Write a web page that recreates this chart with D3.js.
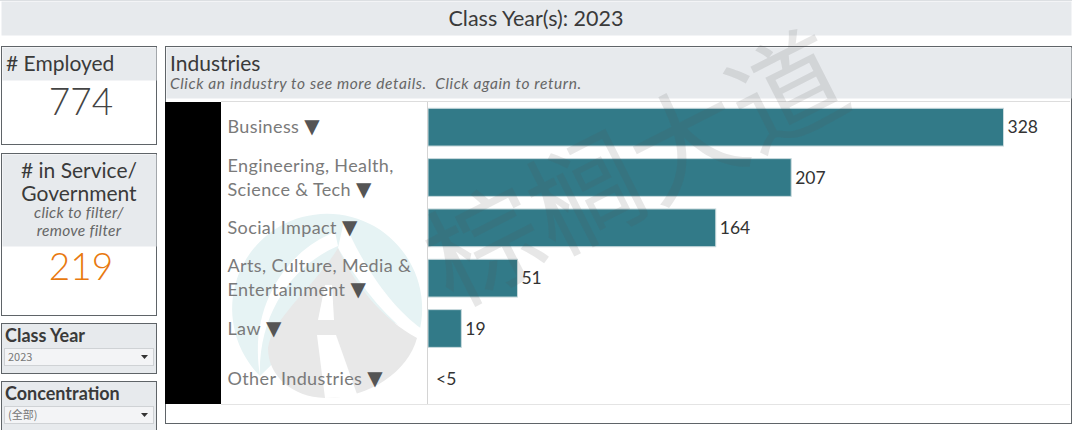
<!DOCTYPE html>
<html>
<head>
<meta charset="utf-8">
<script src="https://cdn.jsdelivr.net/npm/d3@7"></script>
<style>
  html, body { margin: 0; padding: 0; background: #fff; overflow: hidden; }
  svg { display: block; }
  text { font-family: Lato, "Noto Sans", sans-serif; white-space: pre; }
</style>
</head>
<body>
<div id="chart"></div>
<script>
// values
const classYear = "2023";
const employed = "774";
const inService = "219";
const industries = ["Business", "Engineering, Health, Science & Tech", "Social Impact", "Arts, Culture, Media & Entertainment", "Law", "Other Industries"];
const industryLines = [["Business"], ["Engineering, Health,", "Science & Tech"], ["Social Impact"], ["Arts, Culture, Media &", "Entertainment"], ["Law"], ["Other Industries"]];
const counts = [328, 207, 164, 51, 19, 0];
const countLabels = ["328", "207", "164", "51", "19", "<5"];

const W = 1080, H = 430;
const INK = "#3a3a3a", PANEL = "#e7eaed", EDGE = "#5f6468", TEAL = "#327a88", MUTED = "#7a7a7a";

const svg = d3.select("#chart").append("svg").attr("width", W).attr("height", H).attr("viewBox", `0 0 ${W} ${H}`);

const box = (x, y, w, h, fill, stroke) => svg.append("rect")
  .attr("x", x + .5).attr("y", y + .5).attr("width", w).attr("height", h)
  .attr("fill", fill).attr("stroke", stroke || "none");
const label = (x, y, str, size, o = {}) => svg.append("text")
  .attr("x", x).attr("y", y).attr("font-size", size).attr("fill", o.fill || INK)
  .attr("text-anchor", o.anchor || "start").attr("font-style", o.italic ? "italic" : null)
  .attr("font-weight", o.weight || null).attr("letter-spacing", o.track || null).text(str);

// title strip
box(1, 1, 1070, 34, PANEL);
svg.append("line").attr("x1", 0).attr("x2", 1072).attr("y1", .5).attr("y2", .5).attr("stroke", "#dcdfe2");
label(536, 26, `Class Year(s): ${classYear}`, 21.5, { anchor: "middle" });

// # Employed card
box(1, 46, 155, 98, "#fff", EDGE);
box(2, 47, 154, 33, PANEL);
label(6, 71, "# Employed", 21);
label(81, 115, employed, 37, { anchor: "middle", fill: "#444", weight: 300 });

// # in Service card
box(1, 153, 155, 162, "#fff", EDGE);
box(2, 154, 154, 92, PANEL);
label(79, 178, "# in Service/", 21, { anchor: "middle" });
label(79, 201, "Government", 21, { anchor: "middle" });
label(79, 218, "click to filter/", 15.5, { anchor: "middle", italic: true, fill: "#666", track: .3 });
label(79, 236, "remove filter", 15.5, { anchor: "middle", italic: true, fill: "#666", track: .3 });
label(81, 280, inService, 37, { anchor: "middle", fill: "#e8790f", weight: 300 });

// filter cards
function filterCard(y, h, title, value) {
  box(1, y, 155, h, PANEL, EDGE);
  label(5, y + 19, title, 18, { weight: 700 });
  const top = y + 25;
  svg.append("rect").attr("x", 4.5).attr("y", top + .5).attr("width", 149).attr("height", 17)
    .attr("fill", "#f3f4f6").attr("stroke", "#cfd2d5");
  label(8, top + 13, value, 11, { fill: "#777" }).style("font-family", "'Noto Sans CJK SC', sans-serif");
  svg.append("path").attr("d", `M141 ${top + 7}h7l-3.5 4z`).attr("fill", "#333");
}
filterCard(323, 50, "Class Year", classYear);
filterCard(381, 60, "Concentration", "(全部)");

// Industries panel
box(165, 46, 906, 377, "#fff", EDGE);
box(166, 47, 905, 51, PANEL);
label(170, 71, "Industries", 21);
label(170, 89, "Click an industry to see more details.  Click again to return.", 15.5, { italic: true, fill: "#666", track: .6 });
svg.append("rect").attr("x", 165).attr("y", 102).attr("width", 56).attr("height", 302).attr("fill", "#000");
svg.append("line").attr("x1", 221).attr("x2", 1070).attr("y1", 101.5).attr("y2", 101.5).attr("stroke", "#ddd");
svg.append("line").attr("x1", 221).attr("x2", 1070).attr("y1", 404.5).attr("y2", 404.5).attr("stroke", "#e4e4e4");

// logo behind the rows
const logo = svg.append("g");
logo.append("path").attr("d", "M260 376A95 95 0 1 1 419 333L338 300Z").attr("fill", "#e6f3f4");
logo.append("path").attr("d", "M344 221C362 265 392 308 422 329L417 338C388 322 360 285 338 248Z").attr("fill", "#fff");
logo.append("path").attr("d", "M335 232C288 250 248 305 260 376C258 315 292 265 338 246Z").attr("fill", "#fff");
logo.append("path").attr("d", "M338 248C352 280 380 318 417 338C408 372 368 399 325 398C292 397 268 376 268 348C272 318 316 285 338 248Z").attr("fill", "#e8e8e8");
logo.append("path").attr("d", "M325 285L332 285L334 320L318 320Z").attr("fill", "#fff");
logo.append("path").attr("d", "M317 335L336 335L358 397L325 398Z").attr("fill", "#fff");

// bars
const x = d3.scaleLinear().domain([0, 328]).range([428, 1003.5]);
const y = d3.scaleBand().domain(industries).range([102, 404]).paddingInner(.25).paddingOuter(.125);

svg.selectAll("rect.bar").data(industries).join("rect").attr("class", "bar")
  .attr("x", x(0)).attr("y", (d) => y(d))
  .attr("width", (d, i) => x(counts[i]) - x(0)).attr("height", y.bandwidth())
  .attr("fill", TEAL).attr("stroke", "#c9dadd")
  .attr("display", (d, i) => counts[i] ? null : "none");
svg.append("line").attr("x1", 427.5).attr("x2", 427.5).attr("y1", 102).attr("y2", 404).attr("stroke", "#d4d4d4");

svg.selectAll("text.val").data(industries).join("text").attr("class", "val")
  .attr("x", (d, i) => counts[i] ? x(counts[i]) + 4 : 436)
  .attr("y", (d) => y(d) + y.bandwidth() / 2 + 6)
  .attr("font-size", 17.5).attr("fill", "#333")
  .text((d, i) => countLabels[i]);

// row labels, the last line carries the sort arrow
industries.forEach((name, i) => {
  const lines = industryLines[i];
  const mid = y(name) + y.bandwidth() / 2 + 6;
  lines.forEach((line, k) => {
    const t = svg.append("text").attr("x", 227.5).attr("y", mid + (k - (lines.length - 1) / 2) * 24)
      .attr("font-size", 18).attr("fill", MUTED).attr("letter-spacing", .38).text(line);
    if (k === lines.length - 1) {
      t.append("tspan").attr("font-size", 20).attr("dx", 5).attr("fill", "#555")
        .style("font-family", "'DejaVu Sans'").text("▼");
    }
  });
});

// watermark lies over everything
svg.append("text").attr("transform", "translate(641,178) rotate(-27)")
  .attr("text-anchor", "middle").attr("dominant-baseline", "middle")
  .attr("font-size", 113).attr("fill", "#555").attr("fill-opacity", .14)
  .style("font-family", "'Noto Sans CJK SC'").attr("font-weight", 400).text("棕榈大道");
</script>
</body>
</html>
